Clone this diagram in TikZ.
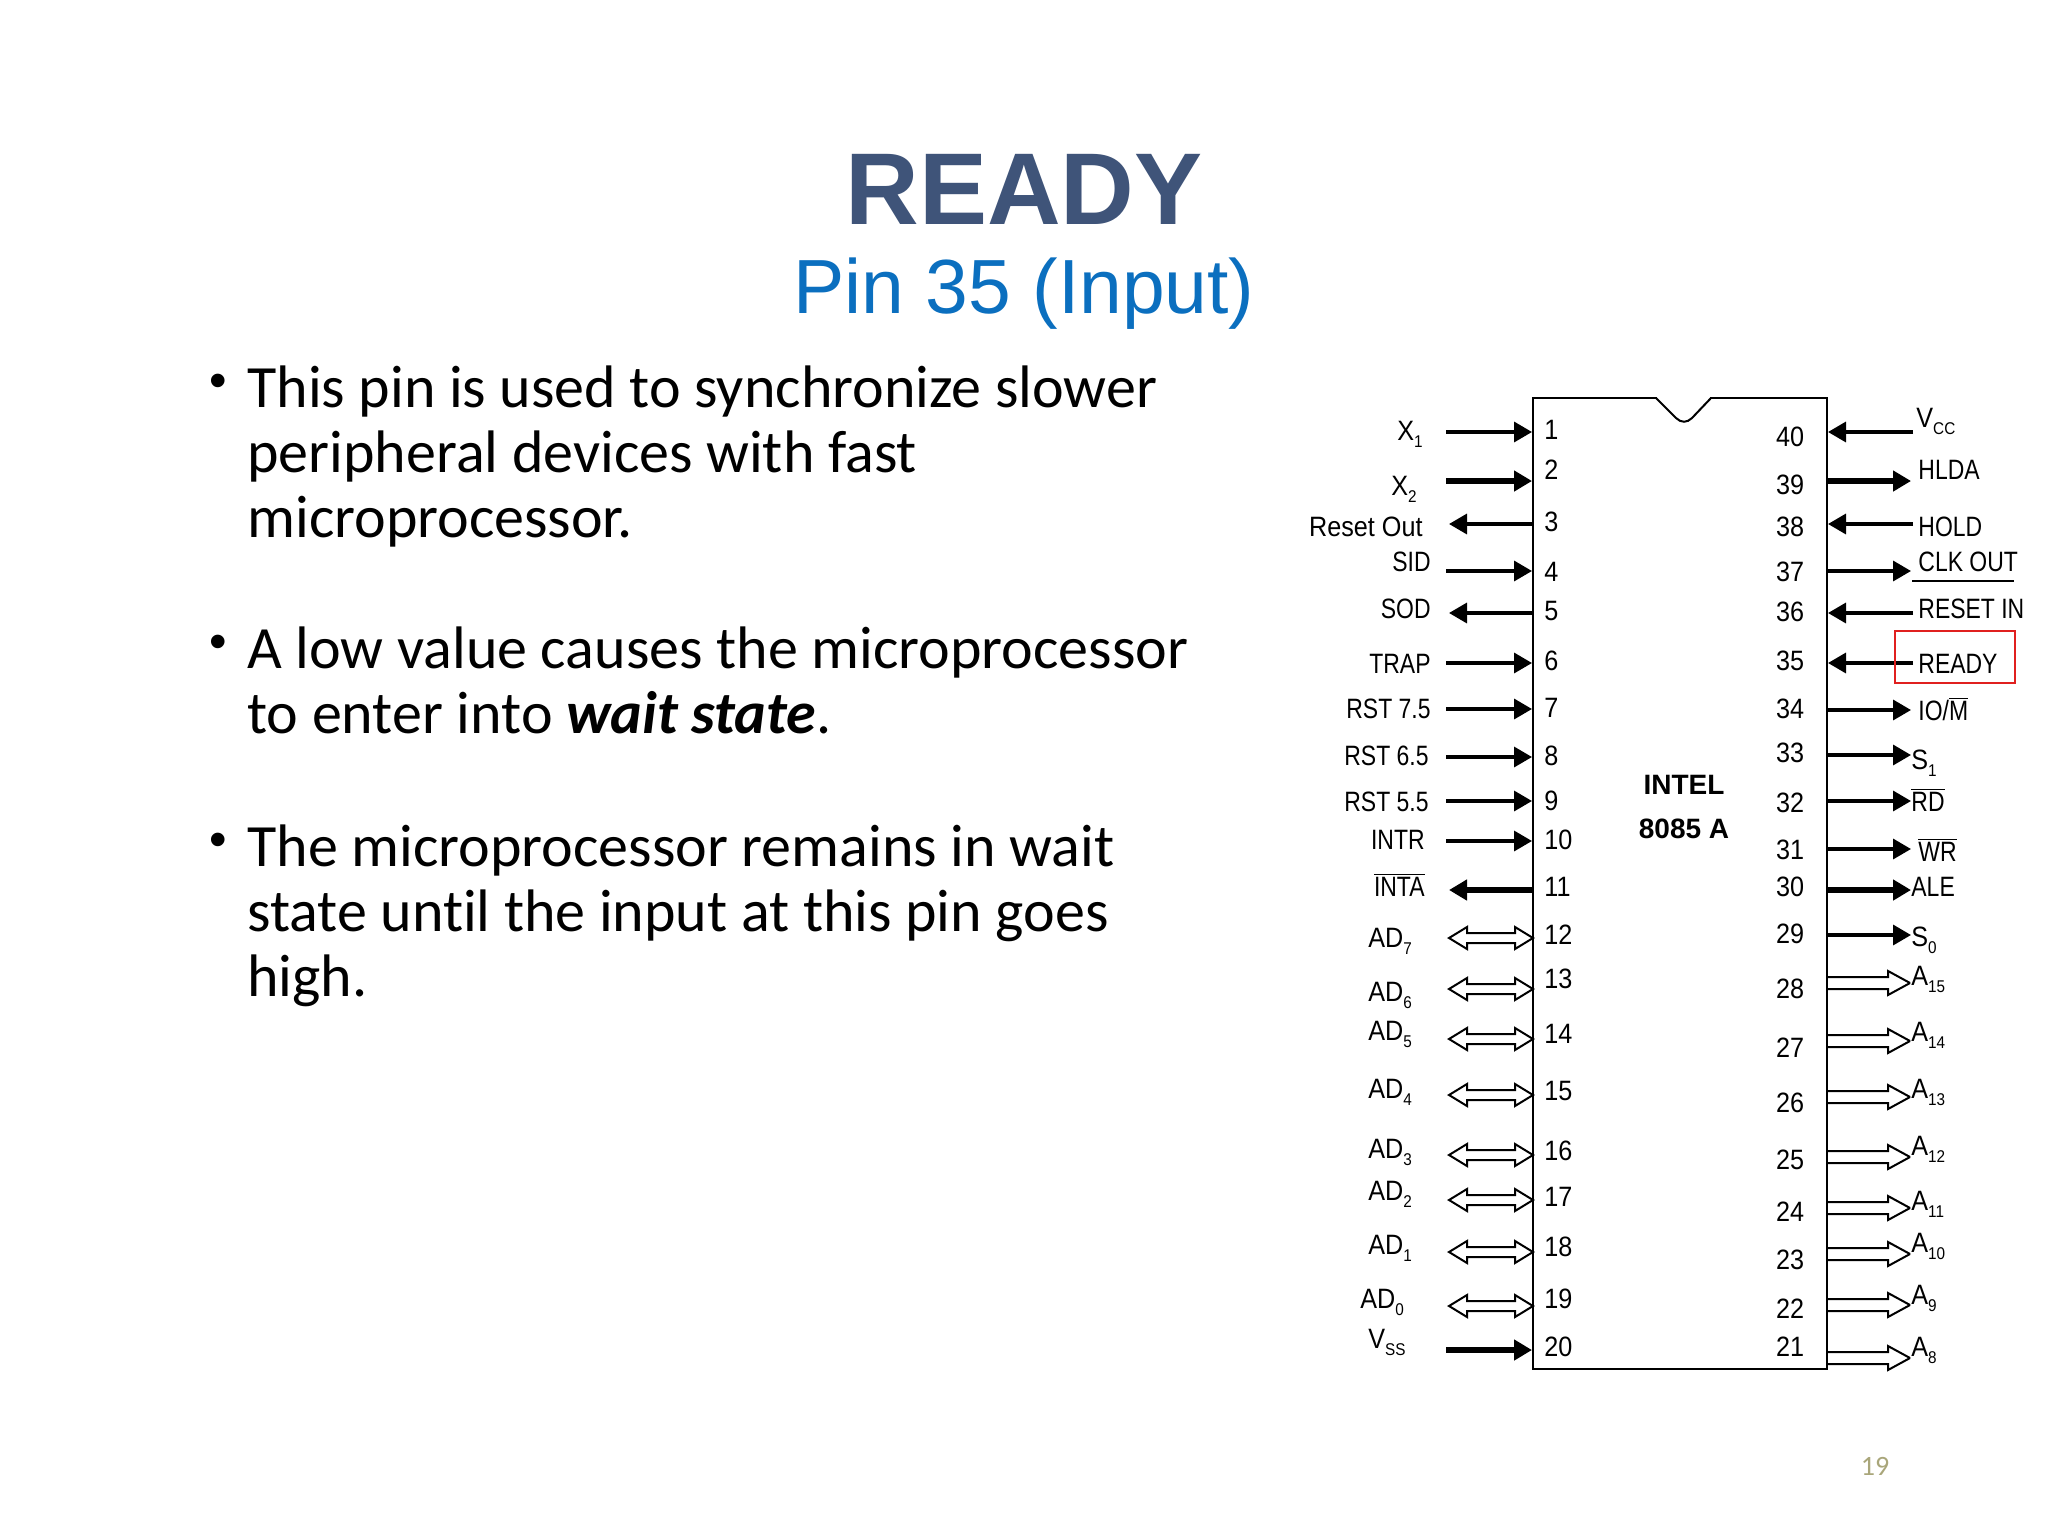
\documentclass[tikz,border=0pt]{standalone}
\usepackage{fontspec}
\setmainfont{Liberation Sans}
\newfontfamily\bodyfont[Ligatures=CommonOff]{Carlito}
\newfontfamily\pinfont[FakeStretch=0.9]{Liberation Sans}
\newfontfamily\namefont[FakeStretch=0.82]{Liberation Sans}
\usetikzlibrary{arrows.meta,calc}
\definecolor{titleblue}{HTML}{3F5479}
\definecolor{subblue}{HTML}{0B6FBF}
\definecolor{pageolive}{HTML}{A9A67A}
\definecolor{boxred}{HTML}{E0201F}
\newcommand{\psub}[1]{\raisebox{-3.5pt}{\fontsize{8.5}{8.5}\selectfont #1}}
\newcommand{\pbar}[1]{\ensuremath{\overline{\hbox{#1}}}}
\tikzset{
  x=0.5pt,y=-0.5pt,
  pinlabel/.style={inner sep=0pt,font=\pinfont\fontsize{14}{14}\selectfont,yshift=-5pt},
  leftlabel/.style={pinlabel,anchor=base east,font=\namefont\fontsize{14}{14}\selectfont},
  rightlabel/.style={pinlabel,anchor=base west,font=\namefont\fontsize{14}{14}\selectfont},
  leftwide/.style={pinlabel,anchor=base east},
  rightwide/.style={pinlabel,anchor=base west},
  pinnum/.style={pinlabel,anchor=base west},
  pinnumr/.style={pinlabel,anchor=base},
  solidpin/.style={line width=1.7pt,-{Triangle[length=9pt,width=10pt]}},
  heavypin/.style={solidpin,line width=2.6pt},
  openpin/.style={line width=1pt,line join=miter},
  chipbox/.style={draw=black,line width=1pt,minimum width=147pt,minimum height=485.5pt,inner sep=0pt},
  chiptext/.style={font=\bfseries\fontsize{14}{14}\selectfont,inner sep=0pt},
  bodytext/.style={font=\bodyfont\fontsize{30}{32.5}\selectfont,align=left,anchor=north west,inner sep=0pt},
  bulletmark/.style={font=\fontsize{25}{25}\selectfont,inner sep=0pt},
}
\begin{document}
\begin{tikzpicture}
\useasboundingbox (0,0) rectangle (2048,1536);
\node[font=\bfseries\fontsize{51}{51}\selectfont,text=titleblue,inner sep=0pt] (title) at (1024,189) {READY};
\node[font=\fontsize{38.4}{38.4}\selectfont,text=subblue,inner sep=0pt] (subtitle) at (1024,294) {Pin 35 (Input)};

\node[bulletmark] (b1) at (218,386) {•};
\node[bodytext] (t1) at (247,365) {This pin is used to synchronize slower\\peripheral devices with fast\\microprocessor.};
\node[bulletmark] (b2) at (218,647) {•};
\node[bodytext] (t2) at (247,626) {A low value causes the microprocessor\\to enter into \textbf{\textit{wait state}}.};
\node[bulletmark] (b3) at (218,845) {•};
\node[bodytext] (t3) at (247,824) {The microprocessor remains in wait\\state until the input at this pin goes\\high.};

\node[chipbox] (chip) at (1680,883.5) {};
\draw[white,line width=1.6pt] (1657,398) -- (1710,398);
\draw[line width=1pt] (1656,398) -- (1676,418) .. controls (1681,423) and (1687,423) .. (1692,418) -- (1711,398);
\node[chiptext] (intel) at (1684,785) {INTEL};
\node[chiptext] (model) at (1684,829) {8085 A};

% left solid inputs
\foreach \n/\y in {1/432,4/571,6/663,7/709,8/757,9/801,10/841}{
  \coordinate (a\n) at (1446,\y);
  \draw[solidpin] (a\n) -- (a\n -| chip.west);
}
\foreach \n/\y in {2/481,20/1350}{
  \coordinate (a\n) at (1446,\y);
  \draw[heavypin] (a\n) -- (a\n -| chip.west);
}
% left solid outputs
\foreach \n/\y in {3/524,5/613}{
  \coordinate (a\n) at (1449,\y);
  \draw[solidpin] (a\n -| chip.west) -- (a\n);
}
\coordinate (a11) at (1449,890);
\draw[heavypin] (a11 -| chip.west) -- (a11);
% left bidirectional
\foreach \n/\y in {12/938,13/989,14/1039,15/1095,16/1155,17/1200,18/1252,19/1306}{
  \coordinate (a\n) at (1449,\y);
  \draw[openpin] (a\n) -- ++(18,-11) -- ++(0,6) -- ++(48,0) -- ++(0,-6) -- ++(18,11) -- ++(-18,11) -- ++(0,-6) -- ++(-48,0) -- ++(0,6) -- cycle;
}
% right inputs
\foreach \n/\y in {40/432,38/524,36/613,35/663}{
  \coordinate (a\n) at (1913,\y);
  \draw[solidpin] (a\n) -- (a\n -| chip.east);
}
% right outputs
\foreach \n/\y in {37/571,34/710,33/755,32/801,31/849,29/935}{
  \coordinate (a\n) at (1911,\y);
  \draw[solidpin] (a\n -| chip.east) -- (a\n);
}
\foreach \n/\y in {39/481,30/890}{
  \coordinate (a\n) at (1911,\y);
  \draw[heavypin] (a\n -| chip.east) -- (a\n);
}
% right address outputs
\foreach \n/\y in {28/983,27/1041,26/1097,25/1157,24/1208,23/1254,22/1305,21/1358}{
  \coordinate (a\n) at (1910,\y);
  \draw[openpin] (a\n) -- ++(-22,-12) -- ++(0,6) -- ++(-61,0) ++(0,12) -- ++(61,0) -- ++(0,6) -- (a\n);
}
% pin numbers
\foreach \n/\y in {1/429,2/469,3/521,4/571,5/610,6/660,7/707,8/755,9/800,10/839,11/886,12/934,13/978,14/1033,15/1090,16/1150,17/1196,18/1246,19/1298,20/1346}{
  \node[pinnum] (n\n) at (1544,\y) {\n};
}
\foreach \n/\y in {40/436,39/484,38/526,37/571,36/611,35/660,34/708,33/752,32/802,31/849,30/886,29/933,28/988,27/1047,26/1102,25/1159,24/1211,23/1259,22/1308,21/1346}{
  \node[pinnumr] (n\n) at (1790,\y) {\n};
}
% left labels
\node[leftwide] (lx1) at (1423,430) {X\psub{1}};
\node[leftwide] (lx2) at (1417,485) {X\psub{2}};
\node[leftwide] (lrst) at (1423,526) {Reset Out};
\node[leftlabel] (lsid) at (1431,561) {SID};
\node[leftlabel] (lsod) at (1431,608) {SOD};
\node[leftlabel] (ltrap) at (1431,663) {TRAP};
\node[leftlabel] (lr75) at (1431,708) {RST 7.5};
\node[leftlabel] (lr65) at (1429,755) {RST 6.5};
\node[leftlabel] (lr55) at (1429,801) {RST 5.5};
\node[leftlabel] (lintr) at (1425,839) {INTR};
\node[leftlabel] (linta) at (1425,886) {\pbar{INTA}};
\node[rightwide] (ad7) at (1368,937) {AD\psub{7}};
\node[rightwide] (ad6) at (1368,991) {AD\psub{6}};
\node[rightwide] (ad5) at (1368,1030) {AD\psub{5}};
\node[rightwide] (ad4) at (1368,1088) {AD\psub{4}};
\node[rightwide] (ad3) at (1368,1148) {AD\psub{3}};
\node[rightwide] (ad2) at (1368,1190) {AD\psub{2}};
\node[rightwide] (ad1) at (1368,1244) {AD\psub{1}};
\node[rightwide] (ad0) at (1360,1298) {AD\psub{0}};
\node[rightwide] (vss) at (1368,1338) {V\psub{SS}};
% right labels
\node[rightwide] (vcc) at (1916,417) {V\psub{CC}};
\node[rightlabel] (hlda) at (1918,469) {HLDA};
\node[rightlabel] (hold) at (1918,526) {HOLD};
\node[rightlabel] (clk) at (1918,561) {CLK OUT};
\coordinate (cu1) at (1912,581);
\coordinate (cu2) at (2014,581);
\draw[line width=0.6pt] (cu1) -- (cu2);
\node[rightlabel] (rsti) at (1918,608) {RESET IN};
\node[rightlabel] (rdy) at (1918,663) {READY};
\node[rightlabel] (iom) at (1918,710) {IO/\pbar{M}};
\node[rightwide] (s1) at (1911,759) {S\psub{1}};
\node[rightlabel] (rd) at (1911,801) {\pbar{RD}};
\node[rightlabel] (wr) at (1918,851) {\pbar{WR}};
\node[rightlabel] (ale) at (1911,886) {ALE};
\node[rightwide] (s0) at (1911,936) {S\psub{0}};
\node[rightwide] (a15) at (1911,975) {A\psub{15}};
\node[rightwide] (a14) at (1911,1031) {A\psub{14}};
\node[rightwide] (a13) at (1911,1088) {A\psub{13}};
\node[rightwide] (a12) at (1911,1145) {A\psub{12}};
\node[rightwide] (a11l) at (1911,1200) {A\psub{11}};
\node[rightwide] (a10) at (1911,1242) {A\psub{10}};
\node[rightwide] (a9) at (1911,1294) {A\psub{9}};
\node[rightwide] (a8) at (1911,1346) {A\psub{8}};
% highlight
\draw[boxred,line width=1.2pt] (1895,631) rectangle (2015,683);
\node[font=\bodyfont\fontsize{14}{14}\selectfont,text=pageolive,inner sep=0pt] (page) at (1875,1466) {19};
\end{tikzpicture}
\end{document}
